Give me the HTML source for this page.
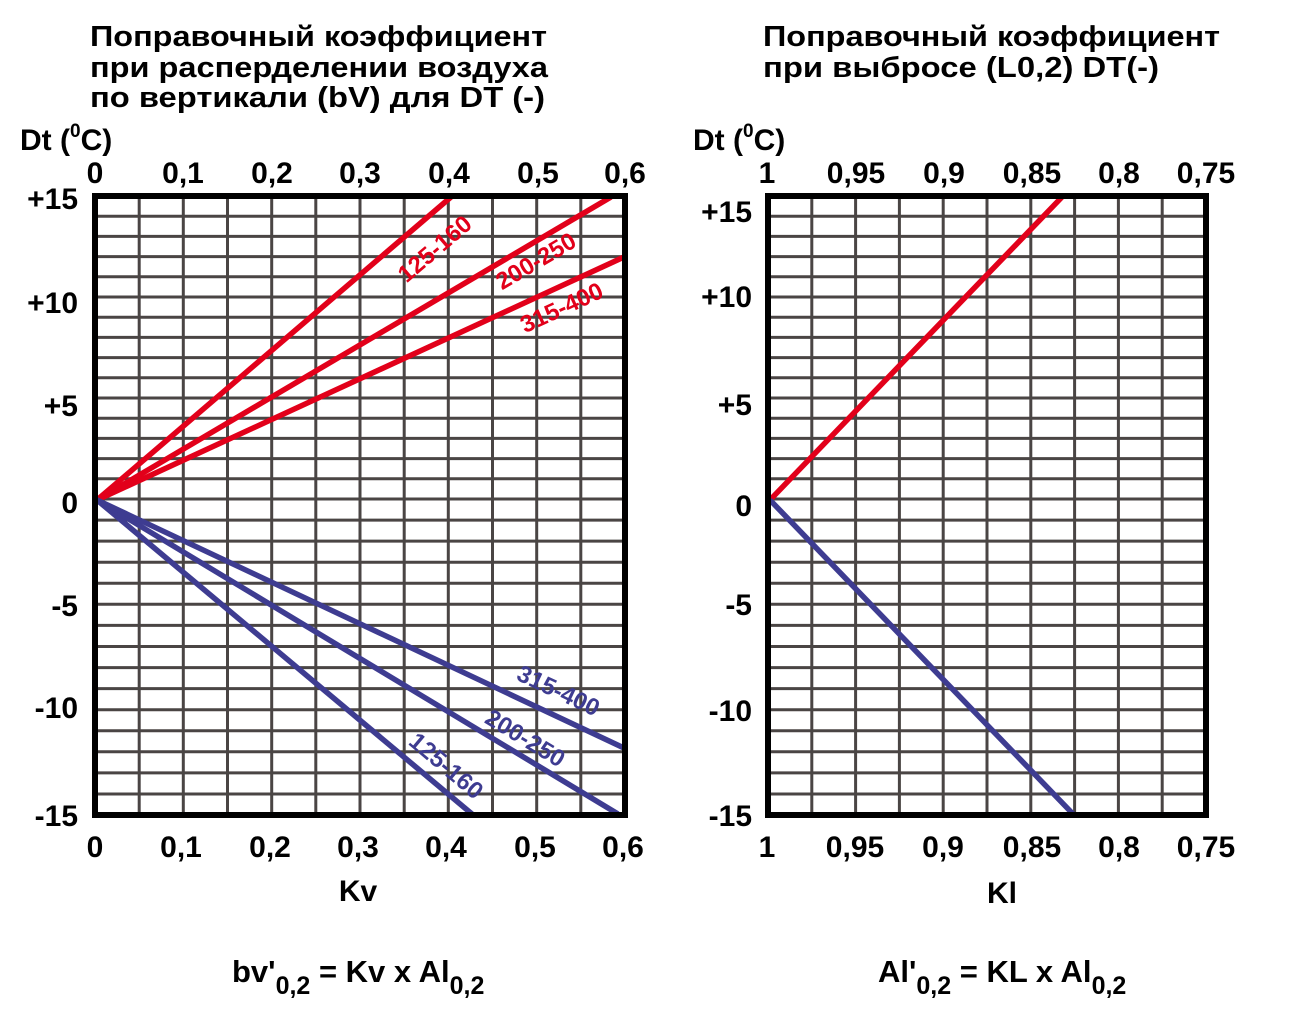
<!DOCTYPE html>
<html><head><meta charset="utf-8"><style>
html,body{margin:0;padding:0;background:#fff;}
svg{display:block;font-family:"Liberation Sans",Arial,sans-serif;font-weight:bold;}
</style></head><body>
<svg width="1300" height="1034" viewBox="0 0 1300 1034" xmlns="http://www.w3.org/2000/svg">
<g font-size="29" fill="#000">
<text x="90" y="46" textLength="457" lengthAdjust="spacingAndGlyphs">Поправочный коэффициент</text>
<text x="90" y="77" textLength="458" lengthAdjust="spacingAndGlyphs">при расперделении воздуха</text>
<text x="90" y="107" textLength="455" lengthAdjust="spacingAndGlyphs">по вертикали (bV) для DT (-)</text>
<text x="763" y="46" textLength="457" lengthAdjust="spacingAndGlyphs">Поправочный коэффициент</text>
<text x="763" y="77" textLength="396" lengthAdjust="spacingAndGlyphs">при выбросе (L0,2) DT(-)</text>
</g>
<g font-size="30">
<text x="20" y="150">Dt (<tspan font-size="19" dy="-13">0</tspan><tspan dy="13">C)</tspan></text>
<text x="693" y="150">Dt (<tspan font-size="19" dy="-13">0</tspan><tspan dy="13">C)</tspan></text>
</g>
<g stroke="#4a4544" stroke-width="3" fill="none">
<path d="M139.2 196V815M183.3 196V815M227.5 196V815M271.7 196V815M315.8 196V815M360 196V815M404.2 196V815M448.3 196V815M492.5 196V815M536.7 196V815M580.8 196V815
M95 216.2H625M95 236.4H625M95 256.6H625M95 276.8H625M95 297H625M95 317.2H625M95 337.4H625M95 357.6H625M95 377.8H625M95 398H625M95 418.2H625M95 438.4H625M95 458.6H625M95 478.8H625M95 499H625
M95 520.1H625M95 541.1H625M95 562.2H625M95 583.3H625M95 604.3H625M95 625.4H625M95 646.5H625M95 667.6H625M95 688.6H625M95 709.7H625M95 730.8H625M95 751.8H625M95 772.9H625M95 794H625"/>
<path d="M811.8 196V815M855.6 196V815M899.4 196V815M943.2 196V815M987 196V815M1030.8 196V815M1074.6 196V815M1118.4 196V815M1162.2 196V815
M768 216.2H1206M768 236.4H1206M768 256.6H1206M768 276.8H1206M768 297H1206M768 317.2H1206M768 337.4H1206M768 357.6H1206M768 377.8H1206M768 398H1206M768 418.2H1206M768 438.4H1206M768 458.6H1206M768 478.8H1206M768 499H1206
M768 520.1H1206M768 541.1H1206M768 562.2H1206M768 583.3H1206M768 604.3H1206M768 625.4H1206M768 646.5H1206M768 667.6H1206M768 688.6H1206M768 709.7H1206M768 730.8H1206M768 751.8H1206M768 772.9H1206M768 794H1206"/>
</g>
<g stroke-width="5.5" fill="none" stroke-linecap="butt">
<g stroke="#e2001a">
<line x1="97" y1="500" x2="451" y2="197"/>
<line x1="97" y1="500" x2="611" y2="197"/>
<line x1="97" y1="500" x2="624" y2="257"/>
<line x1="770" y1="500" x2="1062" y2="197"/>
</g>
<g stroke="#3e3c91">
<line x1="97" y1="500" x2="472" y2="814"/>
<line x1="97" y1="500" x2="618" y2="814"/>
<line x1="97" y1="500" x2="624" y2="748"/>
<line x1="770" y1="500" x2="1073" y2="814"/>
</g>
</g>
<g stroke="#000" stroke-width="6" fill="none">
<rect x="95" y="196" width="530" height="619"/>
<rect x="768" y="196" width="438" height="619"/>
</g>
<g font-size="24" text-anchor="middle">
<text fill="#e2001a" transform="translate(440,255) rotate(-40.5)">125-160</text>
<text fill="#e2001a" transform="translate(540,268) rotate(-30.5)">200-250</text>
<text fill="#e2001a" transform="translate(565,315) rotate(-24.7)">315-400</text>
<text fill="#3e3c91" transform="translate(555,698) rotate(25.2)">315-400</text>
<text fill="#3e3c91" transform="translate(521,745) rotate(31.3)">200-250</text>
<text fill="#3e3c91" transform="translate(441,772) rotate(40.2)">125-160</text>
</g>
<g font-size="30" text-anchor="middle">
<text x="95" y="183">0</text><text x="183" y="183">0,1</text><text x="272" y="183">0,2</text><text x="360" y="183">0,3</text><text x="449" y="183">0,4</text><text x="538" y="183">0,5</text><text x="625" y="183">0,6</text>
<text x="95" y="857">0</text><text x="181" y="857">0,1</text><text x="270" y="857">0,2</text><text x="358" y="857">0,3</text><text x="446" y="857">0,4</text><text x="535" y="857">0,5</text><text x="623" y="857">0,6</text>
<text x="767" y="183">1</text><text x="856" y="183">0,95</text><text x="944" y="183">0,9</text><text x="1032" y="183">0,85</text><text x="1119" y="183">0,8</text><text x="1206" y="183">0,75</text>
<text x="767" y="857">1</text><text x="855" y="857">0,95</text><text x="943" y="857">0,9</text><text x="1032" y="857">0,85</text><text x="1119" y="857">0,8</text><text x="1206" y="857">0,75</text>
<text x="358" y="901">Kv</text>
<text x="1002" y="903">Kl</text>
</g>
<g font-size="30" text-anchor="end">
<text x="78" y="209">+15</text><text x="78" y="313">+10</text><text x="78" y="416">+5</text><text x="78" y="513">0</text><text x="78" y="616">-5</text><text x="78" y="718">-10</text><text x="78" y="826">-15</text>
<text x="752" y="222">+15</text><text x="752" y="307">+10</text><text x="752" y="415">+5</text><text x="752" y="516">0</text><text x="752" y="615">-5</text><text x="752" y="721">-10</text><text x="752" y="826">-15</text>
</g>
<g font-size="31">
<text x="232" y="982">bv'<tspan font-size="25" dy="12">0,2</tspan><tspan dy="-12"> = Kv x Al</tspan><tspan font-size="25" dy="12">0,2</tspan></text>
<text x="878" y="982">Al'<tspan font-size="25" dy="12">0,2</tspan><tspan dy="-12"> = KL x Al</tspan><tspan font-size="25" dy="12">0,2</tspan></text>
</g>
</svg>
</body></html>
